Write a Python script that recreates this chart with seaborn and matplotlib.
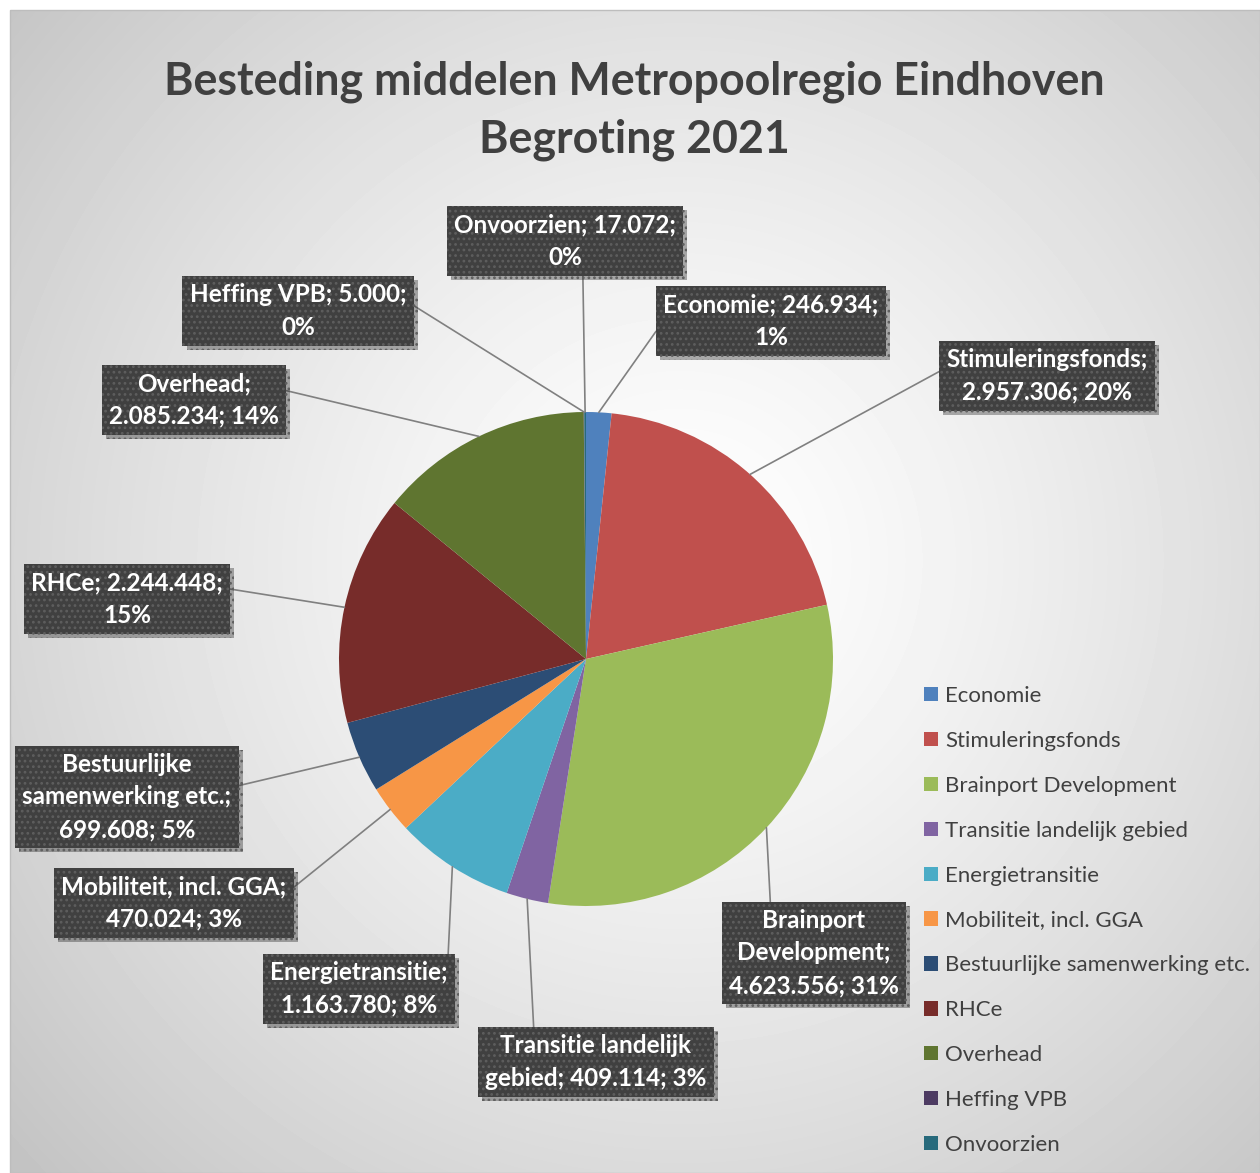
import numpy as np
import seaborn as sns
import matplotlib.pyplot as plt
from matplotlib import patheffects as pe
from matplotlib.patches import Rectangle

# data
categories = ["Economie", "Stimuleringsfonds", "Brainport Development",
              "Transitie landelijk gebied", "Energietransitie",
              "Mobiliteit, incl. GGA", "Bestuurlijke samenwerking etc.",
              "RHCe", "Overhead", "Heffing VPB", "Onvoorzien"]
amounts = [246934, 2957306, 4623556, 409114, 1163780, 470024,
           699608, 2244448, 2085234, 5000, 17072]
label_texts = ["Economie; 246.934;\n1%",
               "Stimuleringsfonds;\n2.957.306; 20%",
               "Brainport\nDevelopment;\n4.623.556; 31%",
               "Transitie landelijk\ngebied; 409.114; 3%",
               "Energietransitie;\n1.163.780; 8%",
               "Mobiliteit, incl. GGA;\n470.024; 3%",
               "Bestuurlijke\nsamenwerking etc.;\n699.608; 5%",
               "RHCe; 2.244.448;\n15%",
               "Overhead;\n2.085.234; 14%",
               "Heffing VPB; 5.000;\n0%",
               "Onvoorzien; 17.072;\n0%"]
colors = ["#4F81BD", "#C0504D", "#9BBB59", "#8064A2", "#4BACC6", "#F79646",
          "#2C4D75", "#772C2A", "#5F7530", "#4D3B62", "#276A7C"]

# layout (pixel coords, y down)
box_pos = [(771, 321), (1047, 376), (814, 953), (596, 1062), (359, 989),
           (174, 903), (127, 797), (127, 599), (194, 400), (298, 311),
           (565, 241)]
box_rel = [(0, 0.5), (0, 0.65), (0.245, 1), (0.22, 1), (1, 1), (1, 0.68),
           (1, 0.61), (1, 0.7), (1, 0.7), (1, 0.68), (0.58, 0)]
cx, cy, r = 586, 659, 247

sns.set_theme(style="white")
plt.rcParams["font.family"] = ["Lato", "DejaVu Sans"]
plt.rcParams["hatch.linewidth"] = 1.2

W, H = 1260, 1173
fig = plt.figure(figsize=(12.6, 11.73), dpi=100)
ax = fig.add_axes([0, 0, 1, 1])

# radial grey background
yy, xx = np.mgrid[10:H, 10:W]
d = np.hypot(xx - 680, yy - 560) / 880
bg = 1.0 - 0.23 * np.clip(d, 0, 1.1) ** 1.3
ax.imshow(bg, cmap="gray", vmin=0, vmax=1, extent=(10, W, H, 10),
          origin="upper", zorder=0, interpolation="bilinear")
ax.add_patch(Rectangle((10, 10), W - 10, H - 10, fill=False,
                       ec="#bdbdbd", lw=1, zorder=0.5))

wedges, _ = ax.pie(amounts, colors=colors, startangle=-90, counterclock=True,
                   center=(cx, cy), radius=r, frame=True,
                   wedgeprops=dict(linewidth=0))
for w in wedges:
    w.set_zorder(2)

for w, txt, pos, rp in zip(wedges, label_texts, box_pos, box_rel):
    mid = np.deg2rad((w.theta1 + w.theta2) / 2)
    pt = (cx + r * np.cos(mid), cy + r * np.sin(mid))
    ann = ax.annotate(
        txt, xy=pt, xytext=pos, textcoords="data", ha="center", va="center",
        fontsize=17.5, fontweight="bold", color="white", linespacing=1.5,
        zorder=3,
        bbox=dict(boxstyle="square,pad=0.3", fc="#404040", ec="#5e5e5e",
                  hatch="...", lw=0),
        arrowprops=dict(arrowstyle="-", color="#808080", lw=1.2, relpos=rp,
                        shrinkA=0, shrinkB=0, zorder=1))
    ann.get_bbox_patch().set_path_effects(
        [pe.SimplePatchShadow(offset=(3, -3), shadow_rgbFace="k", alpha=0.35),
         pe.Normal()])

ax.text(634, 111, "Besteding middelen Metropoolregio Eindhoven\nBegroting 2021",
        ha="center", va="center", fontsize=32.2, fontweight="bold",
        color="#404040", linespacing=1.45)

ax.legend(wedges, categories, loc="upper left", bbox_to_anchor=(904, 666),
          bbox_transform=ax.transData, frameon=False, fontsize=16,
          labelcolor="#404040", handlelength=0.62, handleheight=0.62,
          handletextpad=0.32, labelspacing=1.12)

ax.set_xlim(0, W)
ax.set_ylim(H, 0)
ax.set_aspect("equal")
ax.axis("off")

fig.savefig("out.png", dpi=100, facecolor="white")
